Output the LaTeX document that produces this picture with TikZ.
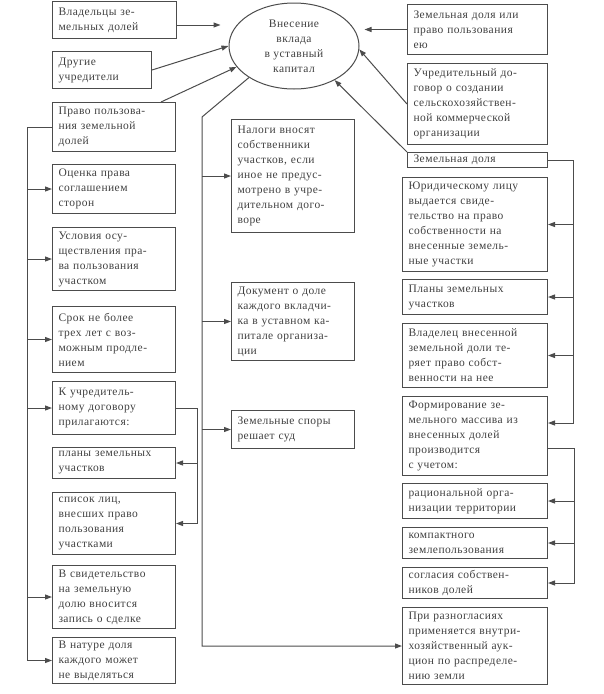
\documentclass[tikz,border=0pt]{standalone}
\usepackage{fontspec}
\setmainfont{Liberation Serif}[LetterSpace=4]
\usetikzlibrary{arrows.meta}
\usetikzlibrary{shapes.geometric}

\begin{document}
\begin{tikzpicture}[->,>={Stealth[length=7pt,width=5pt,inset=0pt]},x=1pt,y=-1pt,line width=1pt,color=black!70,
        every node/.style={font=\fontsize{11.5}{15}\selectfont, text=black!75},
        blok/.style={draw, rectangle, anchor=north west, align=left, inner xsep=6pt, inner ysep=2pt, text width=111pt},
        prav/.style={blok, text width=133pt},
        vklad/.style={draw, ellipse, align=center, minimum width=130pt, minimum height=86pt}]
        \useasboundingbox (0,0) rectangle (603,694);
        \node[vklad] (vk) at (294,46) {Внесение\\вклада\\в уставный\\капитал};
        % left column
        \node[blok, text width=112pt, minimum height=37pt] (v1) at (52,1) {Владельцы зе-\\мельных долей};
        \node[blok, text width=87pt, minimum height=37pt] (v2) at (52,51) {Другие\\учредители};
        \node[blok, minimum height=49pt] (v3) at (52,102) {Право пользова-\\ния земельной\\долей};
        \node[blok, minimum height=49pt] (v4) at (52,164) {Оценка права\\соглашением\\сторон};
        \node[blok, minimum height=63pt] (v5) at (52,227) {Условия осу-\\ществления пра-\\ва пользования\\участком};
        \node[blok, minimum height=66pt] (v6) at (52,306) {Срок не более\\трех лет с воз-\\можным продле-\\нием};
        \node[blok, minimum height=53pt] (v7) at (52,381) {К учредитель-\\ному договору\\прилагаются:};
        \node[blok, minimum height=31pt] (v8) at (52,447) {планы земельных\\участков};
        \node[blok, minimum height=62pt] (v9) at (52,492) {список лиц,\\внесших право\\пользования\\участками};
        \node[blok, minimum height=63pt] (v10) at (52,565) {В свидетельство\\на земельную\\долю вносится\\запись о сделке};
        \node[blok, minimum height=46pt] (v11) at (52,637) {В натуре доля\\каждого может\\не выделяться};
        % middle column
        \node[blok, minimum height=113pt] (m1) at (231,119) {Налоги вносят\\собственники\\участков, если\\иное не предус-\\мотрено в учре-\\дительном дого-\\воре};
        \node[blok, minimum height=78pt] (m2) at (231,282) {Документ о доле\\каждого вкладчи-\\ка в уставном ка-\\питале организа-\\ции};
        \node[blok, minimum height=38pt] (m3) at (231,410) {Земельные споры\\решает суд};
        % right column
        \node[blok, text width=128pt, minimum height=50pt] (r1) at (407,4) {Земельная доля или\\право пользования\\ею};
        \node[blok, text width=128pt, minimum height=81pt] (r2) at (407,63) {Учредительный до-\\говор о создании\\сельскохозяйствен-\\ной коммерческой\\организации};
        \node[blok, text width=128pt, inner ysep=0pt, minimum height=15pt] (r3) at (407,152) {Земельная доля};
        \node[prav, minimum height=94pt] (r4) at (402,177) {Юридическому лицу\\выдается свиде-\\тельство на право\\собственности на\\внесенные земель-\\ные участки};
        \node[prav, minimum height=35pt] (r5) at (402,279) {Планы земельных\\участков};
        \node[prav, minimum height=64pt] (r6) at (402,323) {Владелец внесенной\\земельной доли те-\\ряет право собст-\\венности на нее};
        \node[prav, minimum height=79pt] (r7) at (402,396) {Формирование зе-\\мельного массива из\\внесенных долей\\производится\\с учетом:};
        \node[prav, minimum height=35pt] (r8) at (402,483) {рациональной орга-\\низации территории};
        \node[prav, minimum height=31pt] (r9) at (402,527) {компактного\\землепользования};
        \node[prav, minimum height=31pt] (r10) at (402,567) {согласия собствен-\\ников долей};
        \node[prav, minimum height=77pt] (r11) at (402,607) {При разногласиях\\применяется внутри-\\хозяйственный аук-\\цион по распределе-\\нию земли};
        % into the ellipse
        \coordinate (a1) at ([yshift=-5pt]v1.east);
        \draw[shorten >=8pt] (a1) -- (a1 -| vk.west);
        \draw (v2.east) -- (vk.west);
        \draw ([xshift=-15pt]v3.north east) -- (vk.200);
        \draw[shorten >=5pt] (r1.west) -- (r1.west -| vk.east);
        \draw (r2.west) -- (vk.-3);
        \draw (r3.north west) -- (vk.-40);
        % from the ellipse down the middle
        \coordinate (c1) at (202,117);
        \draw (vk.215) -- (c1) |- (r11.west);
        \draw (c1 |- m1.west) -- (m1.west);
        \draw (c1 |- m2.west) -- (m2.west);
        \draw (c1 |- m3.west) -- (m3.west);
        % left bus
        \draw (v3.west) -- ++(-25,0) coordinate (c2) |- (v11.west);
        \draw (c2 |- v4.west) -- (v4.west);
        \draw (c2 |- v5.west) -- (v5.west);
        \draw (c2 |- v6.west) -- (v6.west);
        \draw (c2 |- v7.west) -- (v7.west);
        \draw (c2 |- v10.west) -- (v10.west);
        \draw (v7.east) -- ++(21,0) coordinate (c3) |- (v9.east);
        \draw (c3 |- v8.east) -- (v8.east);
        % right buses
        \draw (r3.east) -- ++(25,0) coordinate (c4) |- ([yshift=13pt]r7.east);
        \draw (c4 |- r4.east) -- (r4.east);
        \draw (c4 |- r5.east) -- (r5.east);
        \draw (c4 |- r6.east) -- (r6.east);
        \draw ([yshift=-12pt]r7.east) -- ++(26,0) coordinate (c5) |- (r10.east);
        \draw (c5 |- r8.east) -- (r8.east);
        \draw (c5 |- r9.east) -- (r9.east);
    \end{tikzpicture}
\end{document}
